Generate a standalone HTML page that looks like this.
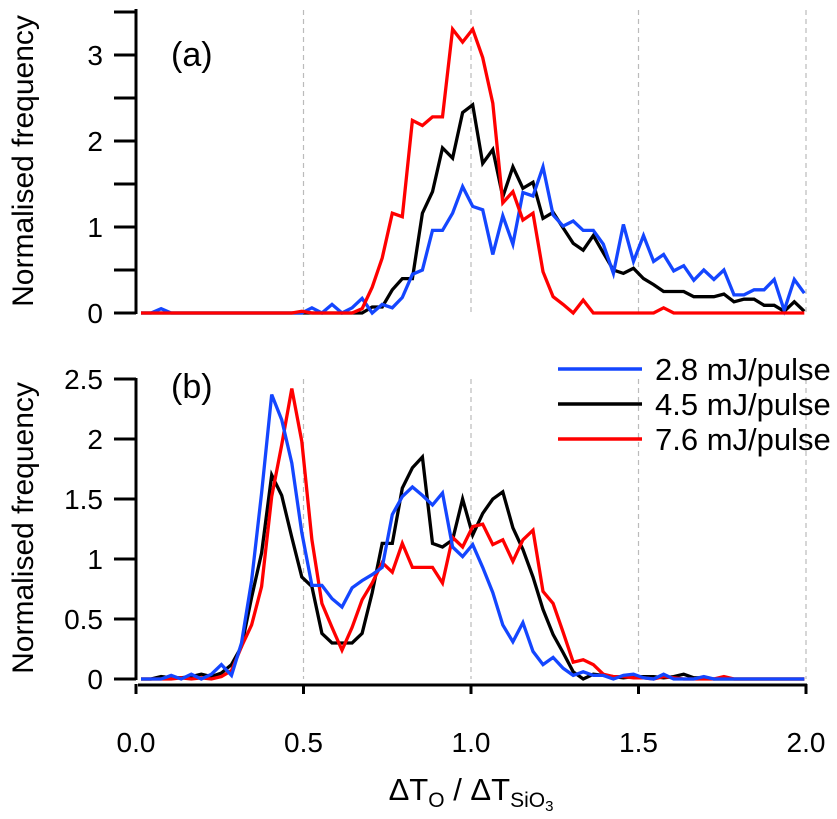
<!DOCTYPE html>
<html><head><meta charset="utf-8"><style>
html,body{margin:0;padding:0;background:#fff;}
svg text{font-family:"Liberation Sans",Arial,sans-serif;fill:#000;}
</style></head><body>
<svg id="chart" width="837" height="814" viewBox="0 0 837 814" xmlns="http://www.w3.org/2000/svg">
<g id="grid"></g><g id="axes"></g><g id="series"></g>
<text x="171" y="66" font-size="34">(a)</text>
<text x="171" y="398" font-size="34">(b)</text>
<text transform="translate(33,161) rotate(-90)" text-anchor="middle" font-size="30">Normalised frequency</text>
<text transform="translate(33,528) rotate(-90)" text-anchor="middle" font-size="30">Normalised frequency</text>
<text x="471" y="800" text-anchor="middle" font-size="31">ΔT<tspan font-size="21" dy="7">O</tspan><tspan dy="-7"> / ΔT</tspan><tspan font-size="21" dy="7">SiO</tspan><tspan font-size="15" dy="4">3</tspan></text>
<g>
<line x1="558" y1="369" x2="642" y2="369" stroke="#1446ff" stroke-width="3.5"/>
<text x="655" y="380" font-size="31">2.8 mJ/pulse</text>
<line x1="558" y1="404" x2="642" y2="404" stroke="#000" stroke-width="3.5"/>
<text x="655" y="415" font-size="31">4.5 mJ/pulse</text>
<line x1="558" y1="439" x2="642" y2="439" stroke="#ff0000" stroke-width="3.5"/>
<text x="655" y="450" font-size="31">7.6 mJ/pulse</text>
</g>
</svg>
<script>
const xBins = Array.from({length:67},(_,k)=>+(0.015+0.03*k).toFixed(3));
const xTicks = [0,0.5,1,1.5,2];
const xTickLabels = ["0.0","0.5","1.0","1.5","2.0"];
const yTicksTop = [0,1,2,3];
const yTicksBottom = [0,0.5,1,1.5,2,2.5];
const yTickLabelsBottom = ["0","0.5","1","1.5","2","2.5"];
const topBlue = [0,0,0.05,0,0,0,0,0,0,0,0,0,0,0,0,0,0,0.06,0,0.1,0,0.06,0.17,0,0.1,0.06,0.18,0.45,0.5,0.96,0.96,1.16,1.47,1.24,1.2,0.68,1.13,0.8,1.4,1.36,1.7,1.14,1.01,1.07,0.96,0.96,0.8,0.46,1.03,0.6,0.9,0.6,0.68,0.49,0.55,0.38,0.5,0.39,0.5,0.21,0.21,0.27,0.27,0.39,0.03,0.39,0.23];
const topBlack = [0,0,0,0,0,0,0,0,0,0,0,0,0,0,0,0,0,0,0,0,0,0,0,0.07,0.07,0.27,0.4,0.4,1.16,1.41,1.92,1.8,2.33,2.42,1.74,1.9,1.35,1.7,1.45,1.52,1.1,1.17,0.99,0.81,0.73,0.9,0.7,0.5,0.46,0.52,0.4,0.33,0.25,0.25,0.25,0.19,0.19,0.19,0.22,0.13,0.16,0.16,0.09,0.09,0.02,0.13,0.02];
const topRed = [0,0,0,0,0,0,0,0,0,0,0,0,0,0,0,0,0.02,0,0,0,0,0,0.05,0.3,0.64,1.16,1.12,2.24,2.18,2.28,2.28,3.3,3.15,3.3,2.97,2.44,1.28,1.41,1.08,1.16,0.48,0.19,0.1,0,0.15,0,0,0,0,0,0,0,0.06,0,0,0,0,0,0,0,0,0,0,0,0,0,0];
const botBlue = [0,0,0,0.03,0,0.04,0,0.04,0.12,0.03,0.3,0.82,1.55,2.37,2.16,1.8,1.22,0.78,0.78,0.67,0.6,0.76,0.82,0.87,0.93,1.37,1.52,1.6,1.53,1.45,1.55,1.1,1.02,1.12,0.93,0.72,0.45,0.31,0.47,0.23,0.12,0.18,0.09,0.03,0.06,0.03,0.03,0,0.03,0.04,0.01,0,0.04,0,0,0,0.02,0,0,0,0,0,0,0,0,0,0];
const botBlack = [0,0,0.02,0.01,0.01,0.02,0.04,0.02,0.05,0.12,0.27,0.68,1.05,1.7,1.53,1.18,0.85,0.77,0.38,0.3,0.3,0.3,0.38,0.72,1.13,1.13,1.59,1.76,1.85,1.13,1.1,1.16,1.5,1.2,1.38,1.5,1.56,1.26,1.08,0.85,0.58,0.37,0.22,0.06,0,0.04,0.03,0.02,0.01,0.02,0.02,0.02,0.01,0.02,0.04,0.01,0.01,0,0,0,0,0,0,0,0,0,0];
const botRed = [0,0,0,0,0.01,0,0.01,0,0.02,0.07,0.27,0.45,0.77,1.52,1.95,2.42,1.98,1.16,0.63,0.43,0.24,0.43,0.66,0.8,0.97,0.89,1.13,0.93,0.93,0.93,0.8,1.18,1.1,1.27,1.29,1.12,1.16,0.98,1.16,1.24,0.73,0.63,0.39,0.14,0.16,0.12,0.04,0.02,0.02,0.01,0.01,0,0.02,0.01,0,0,0,0,0.02,0,0,0,0,0,0,0,0,0,0];

const NS="http://www.w3.org/2000/svg";
const X0=136, XS=335;
const xPix = v => X0 + v*XS;
const yTop = v => 313 - v*86;
const yBot = v => 679 - v*120;
function mk(tag, attrs, parent){const e=document.createElementNS(NS,tag);for(const k in attrs)e.setAttribute(k,attrs[k]);parent.appendChild(e);return e;}
const grid=document.getElementById('grid'), axes=document.getElementById('axes'), series=document.getElementById('series');

[0.5,1,1.5,2].forEach(v=>{
  const g1=mk('line',{x1:xPix(v),x2:xPix(v),y1:10,y2:313,stroke:'#bbb','stroke-width':1.2,'stroke-dasharray':'5,4'},grid);
  
  
  const g2=mk('line',{x1:xPix(v),x2:xPix(v),y1:379,y2:679,stroke:'#bbb','stroke-width':1.2,'stroke-dasharray':'5,4'},grid);
  
  
});

const ya=mk('line',{x1:X0,x2:X0,y1:9,y2:314,stroke:'#000','stroke-width':3},axes);


for(let v=0;v<=3.5;v+=0.5){
  const t=mk('line',{x1:114,x2:X0,y1:yTop(v),y2:yTop(v),stroke:'#000','stroke-width':3},axes);
  
  
}
yTicksTop.forEach(v=>{
  const t=mk('text',{x:103,y:yTop(v)+10,'text-anchor':'end','font-size':28},axes);
  t.textContent=String(v);
  
  
});
const yb=mk('line',{x1:X0,x2:X0,y1:378,y2:680,stroke:'#000','stroke-width':3},axes);


yTicksBottom.forEach((v,i)=>{
  const t=mk('line',{x1:114,x2:X0,y1:yBot(v),y2:yBot(v),stroke:'#000','stroke-width':3},axes);
  
  
  const l=mk('text',{x:103,y:yBot(v)+10,'text-anchor':'end','font-size':28},axes);
  l.textContent=yTickLabelsBottom[i];
  
  
});
const xa=mk('line',{x1:X0+2,x2:807,y1:685,y2:685,stroke:'#000','stroke-width':3},axes);


xTicks.forEach((v,i)=>{
  const t=mk('line',{x1:xPix(v),x2:xPix(v),y1:684,y2:694,stroke:'#000','stroke-width':3},axes);
  
  
  const l=mk('text',{x:xPix(v),y:752,'text-anchor':'middle','font-size':28},axes);
  l.textContent=xTickLabels[i];
  
  
});

function drawLine(vals, yf, color, name){
  const pts=vals.map((v,i)=>xPix(xBins[i]).toFixed(1)+','+yf(v).toFixed(1)).join(' ');
  const p=mk('polyline',{points:pts,fill:'none',stroke:color,'stroke-width':3.3,'stroke-linejoin':'miter'},series);
  
  
}
drawLine(topBlack,yTop,'#000','series-top-4.5');
drawLine(topBlue,yTop,'#1446ff','series-top-2.8');
drawLine(topRed,yTop,'#ff0000','series-top-7.6');
drawLine(botBlack,yBot,'#000','series-bottom-4.5');
drawLine(botRed,yBot,'#ff0000','series-bottom-7.6');
drawLine(botBlue,yBot,'#1446ff','series-bottom-2.8');
</script>
</body></html>
